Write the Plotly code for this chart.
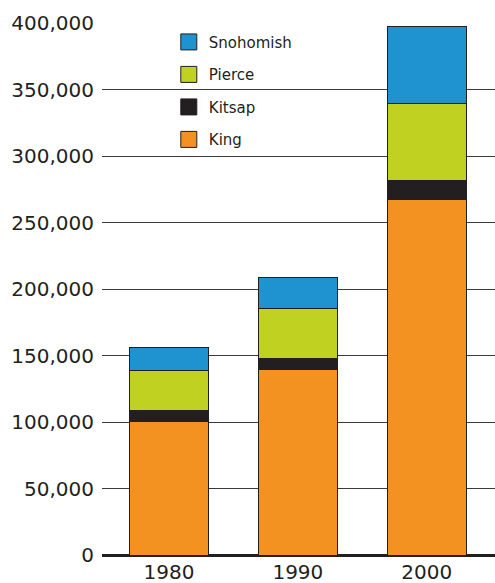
import plotly.graph_objects as go

years = ["1980", "1990", "2000"]
king = [100500, 139300, 267100]
kitsap = [8200, 8100, 14600]
pierce = [30400, 37600, 57800]
snohomish = [17000, 24000, 57500]

series = [
    ("King", king, "#F39220"),
    ("Kitsap", kitsap, "#231F20"),
    ("Pierce", pierce, "#C1D122"),
    ("Snohomish", snohomish, "#1F93D0"),
]

FONT = "DejaVu Sans"
DARK = "#231F20"

fig = go.Figure()
for name, vals, col in series:
    fig.add_trace(go.Bar(
        x=years, y=vals, name=name, showlegend=False,
        marker=dict(color=col, line=dict(color=DARK, width=1)),
    ))
# legend swatches (top-to-bottom order as in the reference)
for name, vals, col in reversed(series):
    fig.add_trace(go.Scatter(
        x=[None], y=[None], name=name, mode="markers", legendgroup=name,
        marker=dict(symbol="square", size=20, color=col, line=dict(color=DARK, width=1)),
    ))

fig.update_layout(
    barmode="stack",
    bargap=0.39,
    width=495, height=583,
    margin=dict(l=102, r=0, t=23, b=28),
    paper_bgcolor="white", plot_bgcolor="white",
    font=dict(family=FONT, color=DARK, size=20),
    legend=dict(
        x=0.17, y=0.995, xanchor="left", yanchor="top",
        traceorder="grouped", bgcolor="rgba(0,0,0,0)",
        font=dict(size=15, color=DARK), tracegroupgap=10,
    ),
    xaxis=dict(
        range=[-0.52, 2.53], showgrid=False, showline=False, ticks="",
        tickfont=dict(size=20, color=DARK), ticklabelstandoff=3,
    ),
    yaxis=dict(
        range=[0, 400000], tickvals=[0, 50000, 100000, 150000, 200000, 250000, 300000, 350000, 400000],
        tickformat=",d", showgrid=True, gridcolor="#3a3a3a", gridwidth=1.2,
        zeroline=True, zerolinecolor=DARK, zerolinewidth=2.5,
        showline=False, ticks="", ticklabelstandoff=7,
        tickfont=dict(size=20, color=DARK),
    ),
)

fig.write_html(
    "out.html",
    config={"displayModeBar": False},
    post_script="document.body.style.margin='0';document.body.style.overflow='hidden';",
)
